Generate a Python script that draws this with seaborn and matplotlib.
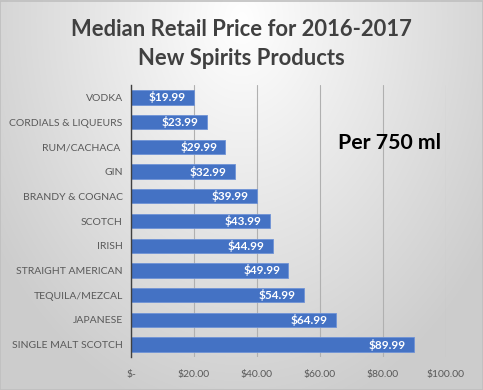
import numpy as np
import pandas as pd
import matplotlib
matplotlib.use("Agg")
import matplotlib.pyplot as plt
import seaborn as sns

categories = ["VODKA", "CORDIALS & LIQUEURS", "RUM/CACHACA ", "GIN", "BRANDY & COGNAC",
              "SCOTCH", "IRISH", "STRAIGHT AMERICAN", "TEQUILA/MEZCAL", "JAPANESE",
              "SINGLE MALT SCOTCH"]
prices = [19.99, 23.99, 29.99, 32.99, 39.99, 43.99, 44.99, 49.99, 54.99, 64.99, 89.99]
xticks = [0, 20, 40, 60, 80, 100]
xticklabels = ["$-", "$20.00", "$40.00", "$60.00", "$80.00", "$100.00"]
title_lines = ["Median Retail Price for 2016-2017", "New Spirits Products"]
note = "Per 750 ml"

sns.set_style("white")
plt.rcParams['font.family'] = ['Lato', 'DejaVu Sans']

df = pd.DataFrame({"cat": categories, "price": prices})

fig = plt.figure(figsize=(4.83, 3.9), dpi=100)

# background radial gradient
bg = fig.add_axes([0, 0, 1, 1], zorder=-10)
h, w = 390, 483
yy, xx = np.mgrid[0:h, 0:w]
r = np.sqrt(((xx - w * 0.5) / (w * 0.62)) ** 2 + ((yy - h * 0.05) / (h * 1.05)) ** 2)
r = np.clip(r, 0, 1)
val = 1.0 - 0.20 * r
img = np.dstack([val, val, val])
bg.imshow(img, aspect='auto', extent=[0, 1, 0, 1], origin='upper')
bg.set_xlim(0, 1); bg.set_ylim(0, 1)
bg.axis('off')
bg.add_patch(plt.Rectangle((0.001, 0.001), 0.998, 0.997, fill=False,
                           edgecolor='#bfbfbf', linewidth=1.2, transform=bg.transAxes))

ax = fig.add_axes([0.2712, 0.0846, 0.6522, 0.6974])
ax.set_facecolor('none')
sns.barplot(data=df, x="price", y="cat", orient="h", color="#4472C4",
            saturation=1, width=0.58, ax=ax, edgecolor='#6f93d6', linewidth=0.6, zorder=3)

ax.set_xlim(0, 100)
ax.set_ylim(10.5, -0.5)
ax.set_xticks(xticks)
ax.set_xticklabels(xticklabels, fontsize=7.5, color='#595959')
ax.tick_params(axis='y', labelsize=7.5, labelcolor='#595959', length=0, pad=6)
ax.tick_params(axis='x', length=0, pad=9)
ax.set_xlabel("")
ax.set_ylabel("")
ax.grid(axis='x', color='#b0b0b0', linewidth=0.8, zorder=0)
ax.set_axisbelow(True)
for s in ['top', 'right', 'bottom']:
    ax.spines[s].set_visible(False)
ax.spines['left'].set_color('#404040')
ax.spines['left'].set_linewidth(1.0)
ax.spines['left'].set_zorder(4)

for i, v in enumerate(prices):
    ax.annotate(f"${v:.2f}", xy=(v, i), xytext=(-6, 0), textcoords='offset points',
                ha='right', va='center', color='white', fontsize=8.5, fontweight='bold',
                zorder=5)

fig.text(0.5, 0.925, title_lines[0], ha='center', va='center', fontsize=15.8,
         fontweight='bold', color='#404040')
fig.text(0.5, 0.851, title_lines[1], ha='center', va='center', fontsize=15.8,
         fontweight='bold', color='#404040')
fig.text(0.70, 0.633, note, ha='left', va='center', fontsize=15.3,
         fontweight='bold', color='black')

fig.savefig("out.png", dpi=100)
